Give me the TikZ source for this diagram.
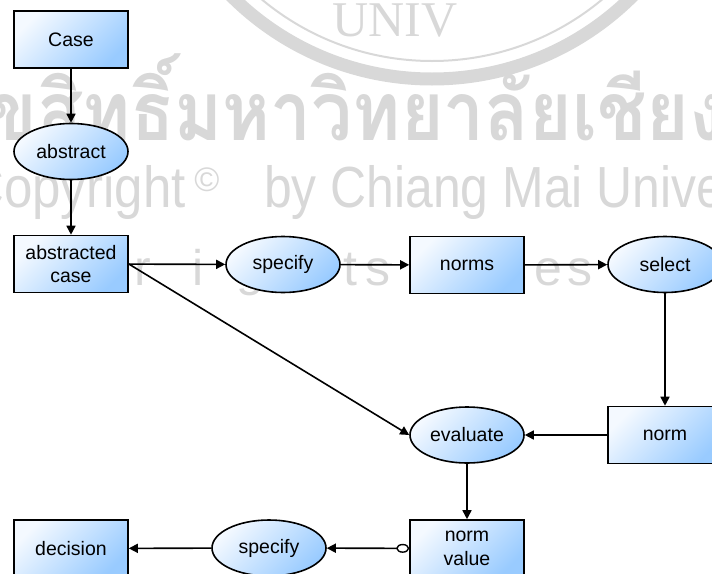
\documentclass[tikz,border=0pt]{standalone}
\usepackage{fontspec}
\setmainfont{Liberation Sans}
\newfontfamily\thaifont[Script=Thai]{Loma}
\newfontfamily\sealfont{Liberation Serif}
\usetikzlibrary{shapes.geometric,arrows.meta}

\definecolor{boxlight}{HTML}{F4F9FF}
\definecolor{boxdark}{HTML}{99CBFF}
\definecolor{wmark}{HTML}{D8D8D8}

\tikzset{
  base/.style={draw=black, line width=1.6pt, top color=boxlight,
    bottom color=boxdark, shading angle=45, align=center, inner sep=0pt,
    font=\fontsize{19.5}{23.5}\selectfont},
  rectbox/.style={base, rectangle, minimum width=114pt, minimum height=57pt},
  oval/.style={base, ellipse, minimum width=114pt, minimum height=56pt},
  link/.style={line width=1.6pt, -{Triangle[length=9pt,width=9pt]}},
  wm/.style={text=wmark, inner sep=0pt},
}

\begin{document}
\begin{tikzpicture}[x=1pt, y=-1pt]
  \useasboundingbox (0,0) rectangle (712,573);
  \clip (0,0) rectangle (712,573);

  % faint background seal and copyright lines
  \draw[wmark, line width=13pt] (432,-205) circle (284);
  \draw[wmark, line width=2pt] (432,-205) circle (266);
  \node[wm, anchor=base, font=\sealfont\fontsize{50}{50}\selectfont] (sealtext) at (395,36) {UNIV};
  \node[wm, anchor=base west, xscale=0.89, font=\thaifont\bfseries\fontsize{82}{82}\selectfont] (thline) at (-57,140) {ลิขสิทธิ์มหาวิทยาลัยเชียงใหม่};
  \node[wm, anchor=base east, xscale=0.88, font=\fontsize{58}{58}\selectfont] (copy) at (186,207) {Copyright};
  \node[wm, font=\fontsize{34}{34}\selectfont] (copysign) at (207,180) {©};
  \node[wm, anchor=base west, xscale=0.86, font=\fontsize{58}{58}\selectfont] (cmu) at (264,207) {by Chiang Mai University};
  \foreach \px/\ch [count=\i] in {-2/l, 143/r, 198/i, 250/g, 300/h, 350/t, 378/s, 440/r, 480/e, 515/s, 548/e, 580/s, 630/e}
    \node[wm, anchor=base, font=\fontsize{50}{50}\selectfont] (rr\i) at (\px,285) {\ch};

  % process nodes
  \node[rectbox] (case)    at (71,39.5)  {Case};
  \node[oval]    (abs)     at (71,151.5) {abstract};
  \node[rectbox] (absc)    at (71,264)   {abstracted\\case};
  \node[oval]    (spec)    at (283,264.5){specify};
  \node[rectbox] (norms)   at (467,265)  {norms};
  \node[oval]    (sel)     at (665,264.5){select};
  \node[rectbox] (norm)    at (665,435)  {norm};
  \node[oval]    (eval)    at (467,435)  {evaluate};
  \node[rectbox] (nval)    at (467,548.5){norm\\value};
  \node[oval]    (spectwo) at (269,548)  {specify};
  \node[rectbox] (dec)     at (71,548.5) {decision};

  % connectors
  \draw[link] (case) -- (abs);
  \draw[link] (abs) -- (absc);
  \draw[link] (absc) -- (spec);
  \draw[link] (spec) -- (norms);
  \draw[link] (norms) -- (sel);
  \draw[link] (sel) -- (norm);
  \draw[link] (norm) -- (eval);
  \draw[link] (absc.east) -- (eval.west);
  \draw[link] (eval) -- (nval);
  \draw[link, {Circle[open, length=13pt, width=9pt, fill=white, line width=1.4pt]}-{Triangle[length=9pt,width=9pt]}] (nval) -- (spectwo);
  \draw[link] (spectwo) -- (dec);
\end{tikzpicture}
\end{document}
